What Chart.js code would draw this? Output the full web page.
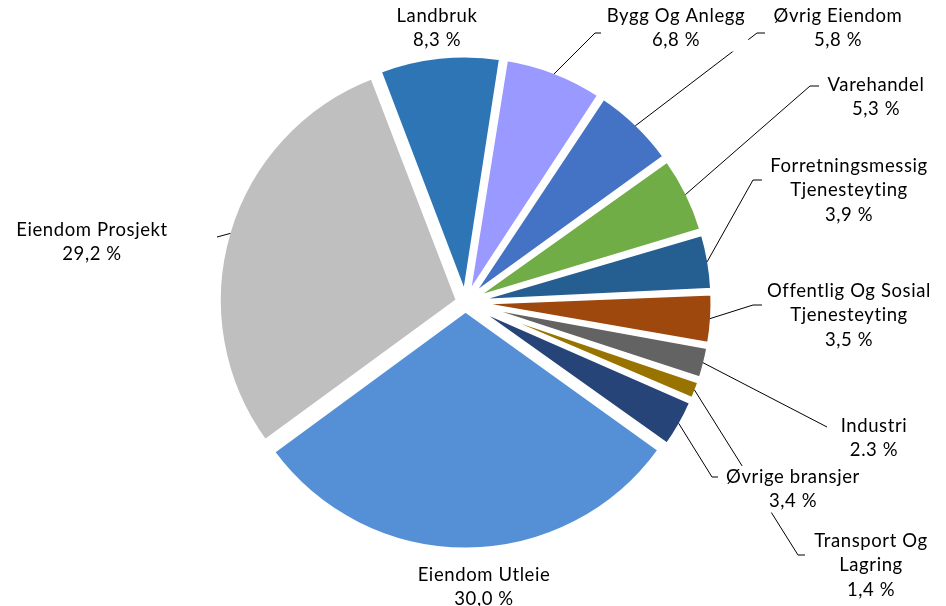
<!DOCTYPE html>
<html>
<head>
<meta charset="utf-8">
<script src="https://cdn.jsdelivr.net/npm/chart.js@4/dist/chart.umd.min.js"></script>
<style>
  html, body { margin: 0; background: #fff; }
  canvas { display: block; }
</style>
</head>
<body>
<canvas id="pie" width="946" height="606"></canvas>
<script>
const categories = ['Landbruk', 'Bygg Og Anlegg', 'Øvrig Eiendom', 'Varehandel',
  'Forretningsmessig Tjenesteyting', 'Offentlig Og Sosial Tjenesteyting', 'Industri',
  'Transport Og Lagring', 'Øvrige bransjer', 'Eiendom Utleie', 'Eiendom Prosjekt'];
const shares = [8.3, 6.8, 5.8, 5.3, 3.9, 3.5, 2.3, 1.4, 3.4, 30.0, 29.2];
const shareLabels = ['8,3 %', '6,8 %', '5,8 %', '5,3 %', '3,9 %', '3,5 %', '2.3 %', '1,4 %', '3,4 %', '30,0 %', '29,2 %'];
const colors = ['#2E75B6', '#9999FF', '#4472C4', '#70AD47', '#255E91', '#9E480E',
  '#636363', '#997300', '#264478', '#5590D6', '#BFBFBF'];

// where each label sits: centre x, first line y, wrap width, leader elbow + end
const LABELS = [
  { x: 437, y: 16, w: 120 },
  { x: 676, y: 16, w: 180, elbow: [595, 33], end: [601, 33] },
  { x: 838, y: 16, w: 180, elbow: [757, 33], end: [765, 33] },
  { x: 876, y: 85, w: 130, elbow: [810, 86], end: [819, 86] },
  { x: 849, y: 166, w: 175, elbow: [753, 180], end: [762, 180] },
  { x: 849, y: 291, w: 175, elbow: [753, 305], end: [762, 305] },
  { x: 874, y: 426, w: 100, elbow: [827, 427], end: [827, 427] },
  { x: 871, y: 541, w: 130, elbow: [798, 555], end: [805, 555] },
  { x: 793, y: 477, w: 180, elbow: [712, 477], end: [718, 477] },
  { x: 484, y: 575, w: 180 },
  { x: 92, y: 230, w: 180, elbow: [217, 237], end: [217, 237] },
];
const FONT = '18.5px Lato';
const LINE_H = 24.5;
const SHIFT = 8;     // px each slice is pulled out
const RADIUS = 239;

function wrap(ctx, text, maxW) {
  const words = text.split(' ');
  const lines = [];
  let cur = '';
  words.forEach((w) => {
    const t = cur ? cur + ' ' + w : w;
    if (cur && ctx.measureText(t).width > maxW) { lines.push(cur); cur = w; }
    else cur = t;
  });
  if (cur) lines.push(cur);
  return lines;
}

// Chart.js grows thin exploded slices by the offset; keep every slice on one circle
const sameRadius = {
  id: 'sameRadius',
  afterDatasetUpdate(chart) {
    chart.getDatasetMeta(0).data.forEach((el) => {
      const fix = 1 - Math.sin(Math.min(Math.PI, el.circumference || 0));
      el.outerRadius = RADIUS - SHIFT * fix;
    });
  },
};

const labelPlugin = {
  id: 'labels',
  afterDatasetsDraw(chart) {
    const ctx = chart.ctx;
    const arcs = chart.getDatasetMeta(0).data;
    ctx.save();
    // leader lines
    ctx.strokeStyle = '#000';
    ctx.lineWidth = 1;
    arcs.forEach((el, i) => {
      const L = LABELS[i];
      if (!L.elbow) return;
      const mid = (el.startAngle + el.endAngle) / 2;
      const r = RADIUS + SHIFT - 2;
      ctx.beginPath();
      ctx.moveTo(el.x + Math.cos(mid) * r, el.y + Math.sin(mid) * r);
      ctx.lineTo(L.elbow[0], L.elbow[1]);
      ctx.lineTo(L.end[0], L.end[1]);
      ctx.stroke();
    });
    // label boxes + text
    ctx.font = FONT;
    ctx.letterSpacing = '0.6px';
    ctx.textAlign = 'center';
    ctx.textBaseline = 'middle';
    arcs.forEach((el, i) => {
      const L = LABELS[i];
      const lines = wrap(ctx, categories[i], L.w).concat(shareLabels[i]);
      const bw = Math.max(...lines.map((s) => ctx.measureText(s).width)) + 6;
      ctx.fillStyle = '#fff';
      ctx.fillRect(L.x - bw / 2, L.y - 11, bw, LINE_H * (lines.length - 1) + 22);
      ctx.fillStyle = '#000';
      lines.forEach((s, k) => ctx.fillText(s, L.x, L.y + k * LINE_H));
    });
    ctx.restore();
  },
};

new Chart(document.getElementById('pie'), {
  type: 'pie',
  data: {
    labels: categories,
    datasets: [{
      data: shares,
      backgroundColor: colors,
      borderColor: '#fff',
      borderWidth: 4,
      offset: SHIFT * 4,
    }],
  },
  options: {
    responsive: false,
    animation: false,
    rotation: -21,
    radius: RADIUS,
    layout: { padding: { left: 0, right: 15, top: 0, bottom: 1 } },
    plugins: { legend: { display: false }, tooltip: { enabled: false } },
  },
  plugins: [sameRadius, labelPlugin],
});
</script>
</body>
</html>
